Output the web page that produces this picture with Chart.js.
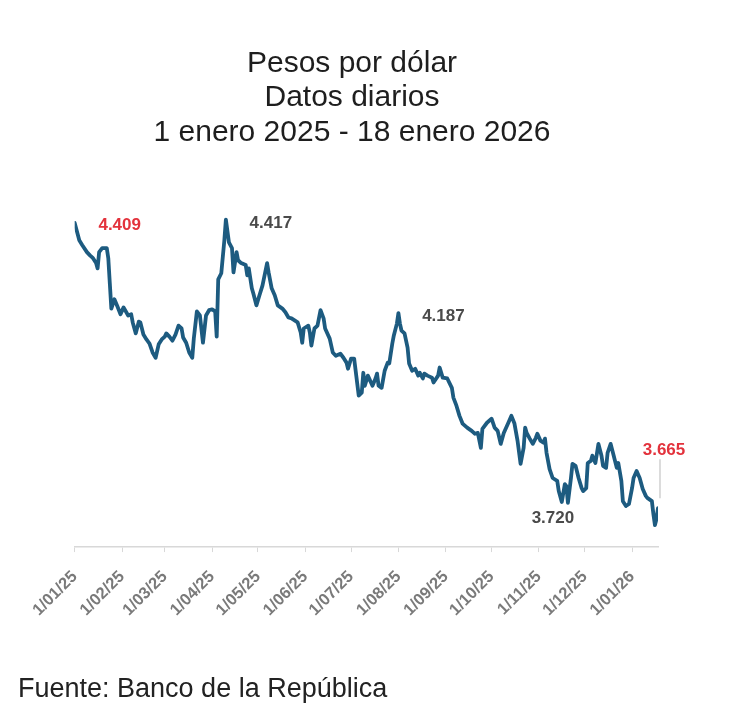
<!DOCTYPE html>
<html>
<head>
<meta charset="utf-8">
<script src="https://cdn.jsdelivr.net/npm/chart.js@4.4.1/dist/chart.umd.min.js"></script>
<style>
  html, body { margin: 0; padding: 0; background: #ffffff; }
  #wrap { width: 732px; height: 716px; }
</style>
</head>
<body>
<div id="wrap"><canvas id="c" width="732" height="716"></canvas></div>
<script>
// ---- Data (days since 1 Jan 2025, pesos por dólar) ----
const days = [0,3,5,8,10,12,14,15,16,18,21,22,23,24,26,28,30,32,35,37,38,40,42,43,45,47,49,51,53,55,57,59,60,62,64,66,68,70,71,73,75,77,78,80,82,84,86,88,90,92,93,94,96,98,99,
101,103,104,106,107,109,112,113,114,116,117,119,121,123,126,127,129,131,133,136,138,140,142,146,148,149,150,153,154,155,157,159,161,163,164,167,169,171,174,176,178,179,181,183,186,188,189,190,192,195,197,198,199,201,203,205,206,208,209,211,212,213,214,216,218,219,221,223,225,226,228,229,231,234,235,238,239,241,244,247,248,250,252,254,257,260,262,264,266,267,270,273,275,277,279,281,284,286,288,290,292,294,295,296,298,300,302,303,305,307,308,309,311,313,316,317,319,321,322,323,325,326,328,330,332,333,335,336,338,339,341,343,345,346,348,349,351,353,355,356,358,359,361,363,365,366,368,370,372,374,375,378,379,380,381,382];
const values = [4409,4366,4354,4337,4329,4322,4310,4297,4337,4347,4347,4322,4260,4198,4221,4203,4184,4201,4181,4184,4164,4137,4166,4164,4134,4122,4112,4090,4077,4110,4122,4129,4137,4129,4119,4134,4156,4149,4127,4114,4090,4077,4124,4191,4181,4114,4181,4194,4196,4191,4129,4270,4285,4366,4417,
4361,4347,4287,4337,4317,4310,4305,4280,4297,4248,4235,4206,4231,4255,4310,4287,4248,4231,4206,4198,4189,4176,4174,4164,4139,4114,4149,4156,4139,4107,4149,4156,4194,4174,4149,4124,4090,4082,4087,4077,4065,4050,4075,4075,3984,3991,4040,4008,4033,4008,4026,4038,4008,4003,4045,4065,4063,4112,4132,4161,4187,4161,4144,4137,4102,4063,4045,4050,4033,4040,4026,4038,4033,4028,4016,4033,4053,4028,4026,4003,3979,3959,3934,3915,3905,3897,3890,3892,3855,3902,3917,3927,3905,3897,3865,3892,3917,3934,3915,3873,3816,3855,3905,3892,3878,3865,3880,3890,3873,3868,3878,3843,3803,3781,3774,3749,3722,3766,3761,3720,3781,3816,3811,3781,3756,3749,3756,3818,3823,3836,3818,3865,3836,3811,3806,3843,3865,3836,3806,3818,3774,3724,3712,3717,3756,3781,3798,3781,3754,3737,3732,3724,3692,3665,3680,3707];

const tickDays   = [0,31,59,90,120,151,181,212,243,273,304,334,365];
const tickLabels = ['1/01/25','1/02/25','1/03/25','1/04/25','1/05/25','1/06/25','1/07/25','1/08/25','1/09/25','1/10/25','1/11/25','1/12/25','1/01/26'];

const titleLines = ['Pesos por dólar', 'Datos diarios', '1 enero 2025 - 18 enero 2026'];
const sourceText = 'Fuente: Banco de la República';

const noteTexts  = ['4.409', '4.417', '4.187', '3.720', '3.665'];
const noteDays   = [0, 99, 212, 323, 382];
const noteValues = [4409, 4417, 4187, 3720, 3665];
const noteHighlight = [true, false, false, false, true];

// ---- Styles ----
const FONT = "'Liberation Sans', Arial, Helvetica, sans-serif";
const LINE_COLOR = '#1d5b80';
const RED = '#e3323c';
const GRAY = '#4a4a4a';
const noteOffsets = [[45, 2], [45, 4], [45, 3], [-15, 16], [6, -75]];

const notesPlugin = {
  id: 'notes',
  afterDatasetsDraw(chart) {
    const ctx = chart.ctx;
    const xs = chart.scales.x, ys = chart.scales.y;
    ctx.save();
    ctx.font = 'bold 17px ' + FONT;
    ctx.textAlign = 'center';
    ctx.textBaseline = 'middle';
    noteTexts.forEach((t, i) => {
      const px = xs.getPixelForValue(noteDays[i]);
      const py = ys.getPixelForValue(noteValues[i]);
      const [dx, dy] = noteOffsets[i];
      ctx.fillStyle = noteHighlight[i] ? RED : GRAY;
      ctx.fillText(t, px + dx, py + dy);
    });
    // connector for the last value
    const lx = xs.getPixelForValue(noteDays[4]) + 2;
    const ly = ys.getPixelForValue(noteValues[4]);
    ctx.strokeStyle = '#c4c4c4';
    ctx.lineWidth = 1.2;
    ctx.beginPath();
    ctx.moveTo(lx, ly - 66);
    ctx.lineTo(lx, ly - 27);
    ctx.stroke();
    ctx.restore();
  }
};

new Chart(document.getElementById('c'), {
  type: 'line',
  data: {
    datasets: [{
      data: days.map((d, i) => ({ x: d, y: values[i] })),
      borderColor: LINE_COLOR,
      borderWidth: 3.8,
      pointRadius: 0,
      tension: 0,
      fill: false,
      borderJoinStyle: 'round',
      borderCapStyle: 'round'
    }]
  },
  options: {
    responsive: false,
    animation: false,
    layout: { padding: { left: 18, right: 46, top: 0, bottom: 0 } },
    plugins: {
      legend: { display: false },
      tooltip: { enabled: false },
      title: {
        display: true,
        text: titleLines,
        color: '#1e1e1e',
        font: { family: FONT, size: 30, weight: 'normal', lineHeight: 1.15 },
        padding: { top: 46, bottom: 56.7 }
      },
      subtitle: {
        display: true,
        position: 'bottom',
        align: 'start',
        text: sourceText,
        color: '#222222',
        font: { family: FONT, size: 27, weight: 'normal', lineHeight: 1.2 },
        padding: { top: 38, bottom: 10.6 }
      }
    },
    scales: {
      x: {
        type: 'linear',
        min: 0,
        max: 382,
        afterBuildTicks: (s) => { s.ticks = tickDays.map(v => ({ value: v })); },
        ticks: {
          autoSkip: false,
          minRotation: 45,
          maxRotation: 45,
          padding: 15,
          color: '#7a7a7a',
          font: { family: FONT, size: 16.5, weight: 'bold' },
          callback: (v, i) => tickLabels[i]
        },
        grid: { display: true, drawOnChartArea: false, drawTicks: true, tickLength: 5, color: '#d8d8d8' },
        border: { display: true, color: '#d8d8d8', width: 1.5 }
      },
      y: {
        type: 'linear',
        position: 'left',
        min: 3611,
        max: 4450,
        afterFit: (s) => { s.width = 56.7; },
        ticks: { display: false },
        grid: { display: false },
        border: { display: false }
      },
      yRight: {
        type: 'linear',
        position: 'right',
        afterFit: (s) => { s.width = 28; },
        ticks: { display: false },
        grid: { display: false },
        border: { display: false }
      }
    }
  },
  plugins: [notesPlugin]
});
</script>
</body>
</html>
